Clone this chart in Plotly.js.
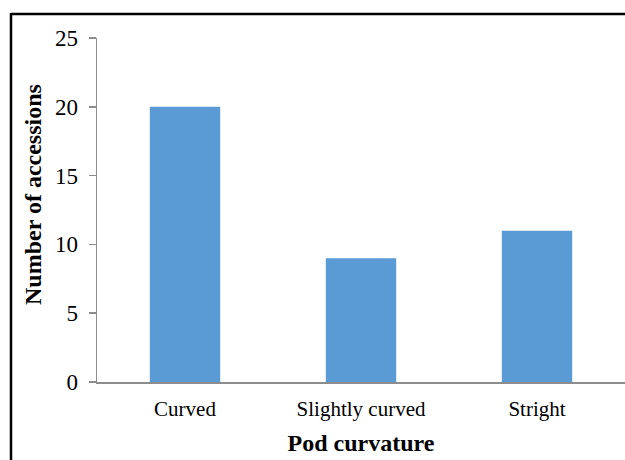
<!DOCTYPE html>
<html>
<head>
<meta charset="utf-8">
<script src="https://cdn.plot.ly/plotly-3.0.1.min.js"></script>
<style>html,body{margin:0;padding:0;background:#fff;}#chart{width:625px;height:460px;}</style>
</head>
<body>
<div id="chart"></div>
<script>
const categories = ["Curved", "Slightly curved", "Stright"];
const counts = [20, 9, 11];
const yTicks = [0, 5, 10, 15, 20, 25];
const xTitle = "Pod curvature";
const yTitle = "Number of accessions";

const L = 97, T = 38, W = 528, H = 344;
const px = x => (x - L) / W;
const py = y => (T + H - y) / H;

const trace = {
  type: "bar",
  x: categories,
  y: counts,
  marker: {color: "#5B9BD5"},
  hoverinfo: "none"
};

const layout = {
  width: 625, height: 460,
  margin: {l: L, r: 0, t: T, b: 460 - T - H, pad: 0},
  paper_bgcolor: "#fff", plot_bgcolor: "#fff",
  bargap: 0.6,
  showlegend: false,
  font: {family: "Liberation Serif, Times New Roman, serif", color: "#000"},
  xaxis: {
    type: "category",
    showline: true, linecolor: "#8c8c8c", linewidth: 1.5,
    ticks: "", showgrid: false, zeroline: false,
    tickfont: {size: 21, family: "Liberation Serif", color: "#000"},
    ticklabelstandoff: 7,
    title: {text: "<b>" + xTitle + "</b>", font: {size: 24, family: "Liberation Serif", color: "#000"}, standoff: 14},
    automargin: false, fixedrange: true
  },
  yaxis: {
    range: [0, 25],
    tickvals: yTicks,
    showline: true, linecolor: "#8c8c8c", linewidth: 1.5,
    ticks: "outside", ticklen: 7, tickcolor: "#8c8c8c", tickwidth: 1.5,
    showgrid: false, zeroline: false,
    tickfont: {size: 23, family: "Liberation Serif", color: "#000"},
    ticklabelstandoff: 6,
    automargin: false, fixedrange: true
  },
  annotations: [
    {xref: "paper", yref: "paper", x: px(33), y: py(195), xanchor: "center", yanchor: "middle",
     text: "<b>" + yTitle + "</b>", textangle: -90, showarrow: false,
     font: {size: 24, family: "Liberation Serif", color: "#000"}}
  ],
  shapes: [
    {type: "line", xref: "paper", yref: "paper", x0: px(11), x1: px(626), y0: py(14), y1: py(14), line: {color: "#000", width: 2.5}},
    {type: "line", xref: "paper", yref: "paper", x0: px(11), x1: px(11), y0: py(13), y1: py(461), line: {color: "#000", width: 2.5}}
  ]
};

Plotly.newPlot("chart", [trace], layout, {displayModeBar: false, staticPlot: true});
</script>
</body>
</html>
